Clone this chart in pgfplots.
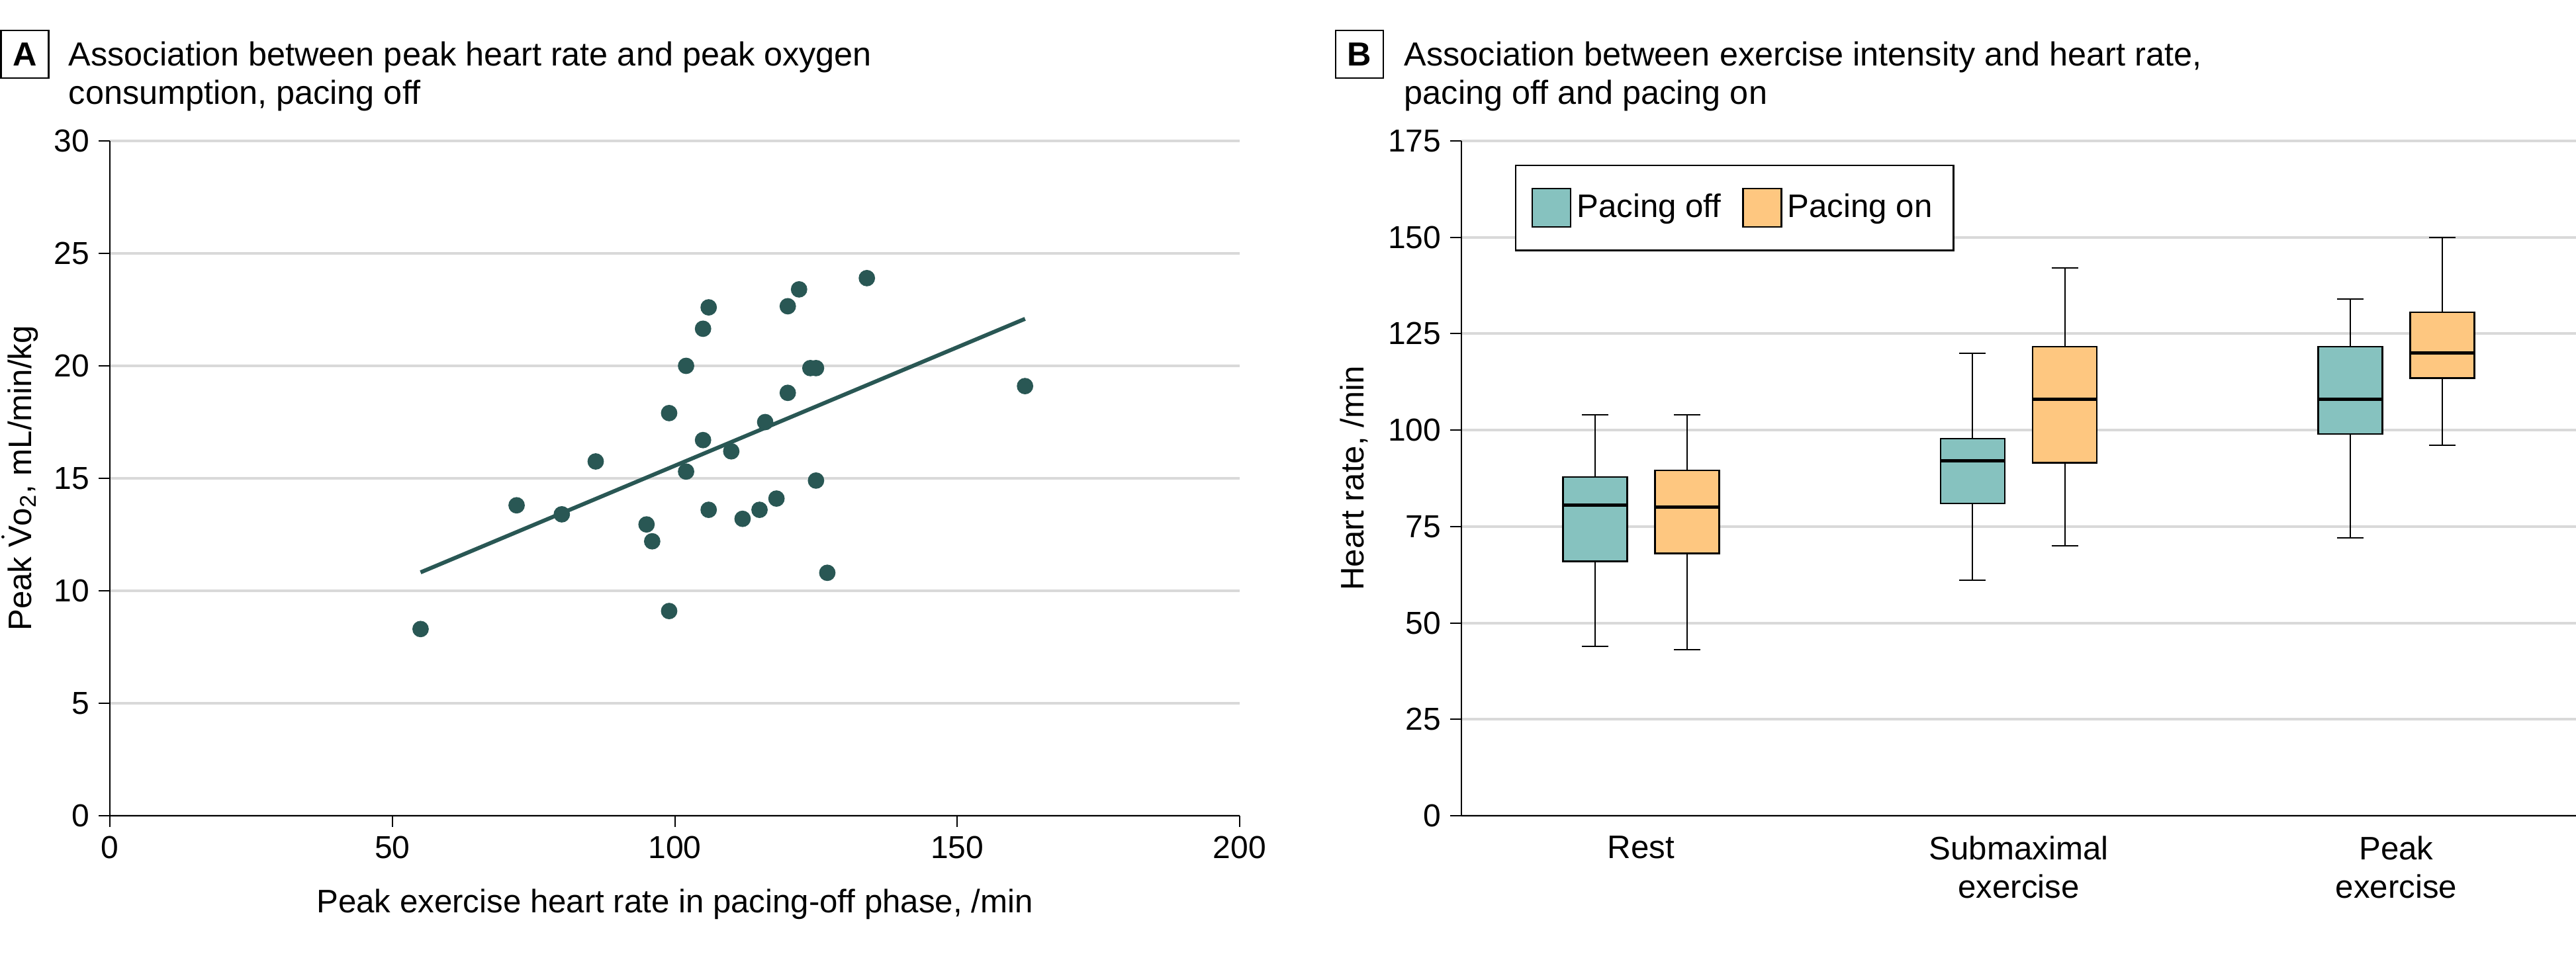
\documentclass[border=0pt]{standalone}
\usepackage{fontspec}
\setmainfont{Liberation Sans}
\usepackage{pgfplots}
\pgfplotsset{compat=1.18}
\usetikzlibrary{calc}

\definecolor{offfill}{RGB}{134,194,191}
\definecolor{onfill}{RGB}{254,199,128}
\definecolor{dotc}{RGB}{41,87,84}
\definecolor{gridc}{RGB}{217,217,217}

\newcommand{\txtfont}{\fontsize{12.3}{14.5}\selectfont}
\newcommand{\ttlfont}{\fontsize{12.6}{14.5}\selectfont}

\pgfplotsset{
  panel/.style={
    scale only axis, height=255pt,
    axis x line=bottom, axis y line=left,
    axis line style={-, black, line width=0.5pt},
    x axis line style={line width=0.6pt},
    ymajorgrids, grid style={gridc, line width=1pt},
    tick align=outside, major tick length=4.2pt,
    tick style={black, line width=0.5pt},
    tick label style={font=\fontsize{12}{14}\selectfont},
    /pgf/number format/assume math mode=true,
  },
  whisk/.style={black, line width=0.5pt, forget plot},
  boxoff/.style={fill=offfill, draw=black, line width=0.6pt, forget plot},
  boxon/.style={fill=onfill, draw=black, line width=0.6pt, forget plot},
  med/.style={black, line width=1.3pt, forget plot},
}

\begin{document}
\begin{tikzpicture}
\useasboundingbox (0pt,0pt) rectangle (973pt,-360.5pt);

% panel titles
\node[draw, line width=0.6pt, minimum width=18pt, minimum height=18pt, inner sep=0pt,
      font=\ttlfont\bfseries] at (9.4pt,-20.5pt) {A};
\node[anchor=base west, inner sep=0pt, font=\ttlfont] at (25.75pt,-25pt)
  {Association between peak heart rate and peak oxygen};
\node[anchor=base west, inner sep=0pt, font=\ttlfont] at (25.75pt,-39.5pt)
  {consumption, pacing off};

\node[draw, line width=0.6pt, minimum width=18pt, minimum height=18pt, inner sep=0pt,
      font=\ttlfont\bfseries] at (513.5pt,-20.5pt) {B};
\node[anchor=base west, inner sep=0pt, font=\ttlfont] at (530.25pt,-25pt)
  {Association between exercise intensity and heart rate,};
\node[anchor=base west, inner sep=0pt, font=\ttlfont] at (530.25pt,-39.5pt)
  {pacing off and pacing on};

% A: scatter
\begin{axis}[panel,
  at={(41.5pt,-308.25pt)}, anchor=south west, width=426.75pt,
  xmin=0, xmax=200, ymin=0, ymax=30,
  xtick={0,50,...,200}, ytick={0,5,...,30},
  xlabel={Peak exercise heart rate in pacing-off phase, /min},
  ylabel={Peak $\dot{\mbox{V}}$o\textsubscript{2}, mL/min/kg},
  every axis x label/.style={at={($(rel axis cs:0.5,0)+(0pt,-33.5pt)$)}, anchor=center, font=\txtfont},
  every axis y label/.style={at={($(rel axis cs:0,0.5)+(-34pt,0pt)$)}, anchor=center, rotate=90, font=\txtfont},
]
\addplot[only marks, mark=*, mark size=2.9pt, dotc] coordinates {
  (55,8.3) (72,13.8) (80,13.4) (86,15.75) (95,12.95) (96,12.2)
  (99,17.9) (99,9.1) (102,20.0) (102,15.3) (105,21.65) (105,16.7)
  (106,22.6) (106,13.6) (110,16.2) (112,13.2) (115,13.6) (116,17.5)
  (118,14.1) (120,22.65) (120,18.8) (122,23.4) (124,19.9) (125,19.9)
  (125,14.9) (127,10.8) (134,23.9) (162,19.1)
};
\addplot[dotc, line width=1.5pt] coordinates {(55,10.82) (162,22.09)};
\end{axis}

% B: box plots (each box: whiskers+caps, box, median)
\begin{axis}[panel,
  at={(552pt,-308.25pt)}, anchor=south west, width=421pt,
  xmin=-0.476, xmax=2.476, ymin=0, ymax=175,
  ytick={0,25,...,175},
  xtick={0,1,2},
  xticklabels={Rest, {Submaximal\\exercise}, {Peak\\exercise}},
  xticklabel style={align=center, font=\txtfont},
  major x tick style={draw=none},
  unbounded coords=jump,
  ylabel={Heart rate, /min},
  every axis y label/.style={at={($(rel axis cs:0,0.5)+(-40.5pt,0pt)$)}, anchor=center, rotate=90, font=\txtfont},
  legend style={at={(0.048,0.965)}, anchor=north west, draw=black, line width=0.6pt,
    legend columns=2, font=\txtfont, inner xsep=6pt, inner ysep=8.5pt,
    /tikz/every even column/.append style={column sep=6pt}},
  legend image code/.code={\draw[#1] (0pt,-7.25pt) rectangle (14.5pt,7.25pt);},
]
\addlegendimage{fill=offfill, draw=black, line width=0.6pt}
\addlegendentry{Pacing off}
\addlegendimage{fill=onfill, draw=black, line width=0.6pt}
\addlegendentry{Pacing on}

% Rest, pacing off
\addplot[whisk] coordinates {(-0.122,44) (-0.122,104) (nan,nan)
  (-0.157,104) (-0.087,104) (nan,nan) (-0.157,44) (-0.087,44)};
\addplot[boxoff] coordinates {(-0.207,66) (-0.037,66) (-0.037,87.8) (-0.207,87.8)} --cycle;
\addplot[med] coordinates {(-0.207,80.6) (-0.037,80.6)};
% Rest, pacing on
\addplot[whisk] coordinates {(0.122,43) (0.122,104) (nan,nan)
  (0.087,104) (0.157,104) (nan,nan) (0.087,43) (0.157,43)};
\addplot[boxon] coordinates {(0.037,68) (0.207,68) (0.207,89.6) (0.037,89.6)} --cycle;
\addplot[med] coordinates {(0.037,80) (0.207,80)};
% Submaximal, pacing off
\addplot[whisk] coordinates {(0.878,61) (0.878,120) (nan,nan)
  (0.843,120) (0.913,120) (nan,nan) (0.843,61) (0.913,61)};
\addplot[boxoff] coordinates {(0.793,81) (0.963,81) (0.963,97.8) (0.793,97.8)} --cycle;
\addplot[med] coordinates {(0.793,92) (0.963,92)};
% Submaximal, pacing on
\addplot[whisk] coordinates {(1.122,70) (1.122,142) (nan,nan)
  (1.087,142) (1.157,142) (nan,nan) (1.087,70) (1.157,70)};
\addplot[boxon] coordinates {(1.037,91.5) (1.207,91.5) (1.207,121.6) (1.037,121.6)} --cycle;
\addplot[med] coordinates {(1.037,108) (1.207,108)};
% Peak, pacing off
\addplot[whisk] coordinates {(1.878,72) (1.878,134) (nan,nan)
  (1.843,134) (1.913,134) (nan,nan) (1.843,72) (1.913,72)};
\addplot[boxoff] coordinates {(1.793,99) (1.963,99) (1.963,121.6) (1.793,121.6)} --cycle;
\addplot[med] coordinates {(1.793,108) (1.963,108)};
% Peak, pacing on
\addplot[whisk] coordinates {(2.122,96) (2.122,150) (nan,nan)
  (2.087,150) (2.157,150) (nan,nan) (2.087,96) (2.157,96)};
\addplot[boxon] coordinates {(2.037,113.5) (2.207,113.5) (2.207,130.6) (2.037,130.6)} --cycle;
\addplot[med] coordinates {(2.037,120) (2.207,120)};
\end{axis}
\end{tikzpicture}
\end{document}
